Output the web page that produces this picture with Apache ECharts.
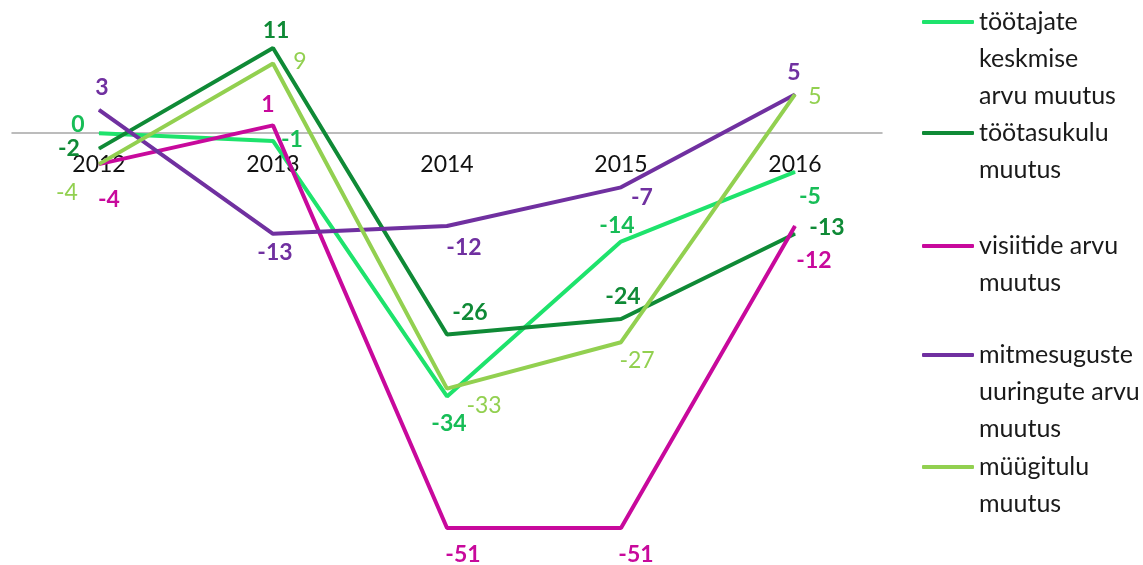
<!DOCTYPE html>
<html>
<head>
<meta charset="utf-8">
<script src="https://cdn.jsdelivr.net/npm/echarts@6/dist/echarts.min.js"></script>
<style>
    html, body { margin: 0; padding: 0; background: #fff; }
    #main { width: 1143px; height: 565px; }
</style>
</head>
<body>
<div id="main"></div>
<script>
var years = ['2012', '2013', '2014', '2015', '2016'];

var seriesNames = [
    'töötajate keskmise arvu muutus',
    'töötasukulu muutus',
    'visiitide arvu muutus',
    'mitmesuguste uuringute arvu muutus',
    'müügitulu muutus'
];
// how the legend text wraps
var legendLines = [
    ['töötajate', 'keskmise', 'arvu muutus'],
    ['töötasukulu', 'muutus'],
    ['visiitide arvu', 'muutus'],
    ['mitmesuguste', 'uuringute arvu', 'muutus'],
    ['müügitulu', 'muutus']
];

var tootajad = [0, -1, -34, -14, -5];
var tootasukulu = [-2, 11, -26, -24, -13];
var visiidid = [-4, 1, -51, -51, -12];
var uuringud = [3, -13, -12, -7, 5];
var myygitulu = [-4, 9, -33, -27, 5];

var yMin = -55, yMax = 15;

var lineColors = ['#1ee36c', '#0f8a36', '#c8099c', '#7030a0', '#92d050'];
var labelColors = ['#17bd57', '#0f8a36', '#c8099c', '#7030a0', '#92d050'];
var labelBold = [true, true, true, true, false];

// label offsets from the point, per series / per year
var labelOffsets = [
    [[-21, -9], [19, -1], [2, 27], [-4, -16], [15, 25]],
    [[-30, 0], [3, -17], [23, -22], [2, -22], [32, -6]],
    [[10, 35], [-5, -21], [16, 27], [15, 27], [19, 35]],
    [[3, -22], [2, 19], [17, 22], [21, 10], [-1, -22]],
    [[-32, 28], [27, -2], [37, 17], [16, 18], [20, 2]]
];

// centre y of the first line of each legend entry
var legendFirstLine = [22, 133, 246, 355, 467];
var LH = 37;

var gridTop = 17, gridHeight = 542;
// move the x axis up from the grid bottom to the zero line
var zeroShift = gridHeight * (0 - yMin) / (yMax - yMin);

var allValues = [tootajad, tootasukulu, visiidid, uuringud, myygitulu];

function buildData(values, offsets) {
    var res = [];
    for (var i = 0; i < values.length; i++) {
        res.push({
            value: values[i],
            label: { offset: offsets[i] }
        });
    }
    return res;
}

var series = [];
var legends = [];
for (var s = 0; s < seriesNames.length; s++) {
    series.push({
        name: seriesNames[s],
        type: 'line',
        data: buildData(allValues[s], labelOffsets[s]),
        symbol: 'circle',
        symbolSize: 1,
        lineStyle: { width: 4, color: lineColors[s] },
        itemStyle: { color: lineColors[s] },
        label: {
            show: true,
            position: 'inside',
            color: labelColors[s],
            fontFamily: 'Lato',
            fontSize: 23,
            fontWeight: labelBold[s] ? 'bold' : 'normal'
        },
        emphasis: { disabled: true },
        animation: false
    });

    var n = legendLines[s].length;
    var blanks = n === 3 ? 2 : 1;
    var total = n + blanks;
    legends.push({
        data: [seriesNames[s]],
        left: 922,
        top: legendFirstLine[s] - total * LH / 2,
        orient: 'vertical',
        padding: 0,
        icon: 'roundRect',
        itemWidth: 52,
        itemHeight: 4,
        selectedMode: false,
        textStyle: {
            fontFamily: 'Lato',
            fontSize: 25,
            lineHeight: LH,
            color: '#1a1a1a'
        },
        formatter: (function (lines, b) {
            return function () {
                var pre = '';
                for (var k = 0; k < b; k++) pre += ' \n';
                return pre + lines.join('\n');
            };
        })(legendLines[s], blanks)
    });
}

var myChart = echarts.init(document.getElementById('main'));
var option = {
    backgroundColor: '#fff',
    animation: false,
    grid: {
        left: 12, right: 261, top: gridTop, height: gridHeight,
        containLabel: false,
        outerBoundsMode: 'none'
    },
    legend: legends,
    xAxis: {
        type: 'category',
        data: years,
        position: 'bottom',
        offset: -zeroShift,
        axisLine: { onZero: false, lineStyle: { color: '#a6a6a6', width: 1.5 } },
        axisTick: { show: false },
        axisLabel: {
            margin: 20,
            color: '#111',
            fontFamily: 'Lato',
            fontSize: 23
        }
    },
    yAxis: {
        type: 'value',
        min: yMin,
        max: yMax,
        show: false,
        splitLine: { show: false }
    },
    series: series
};
myChart.setOption(option);
</script>
</body>
</html>
